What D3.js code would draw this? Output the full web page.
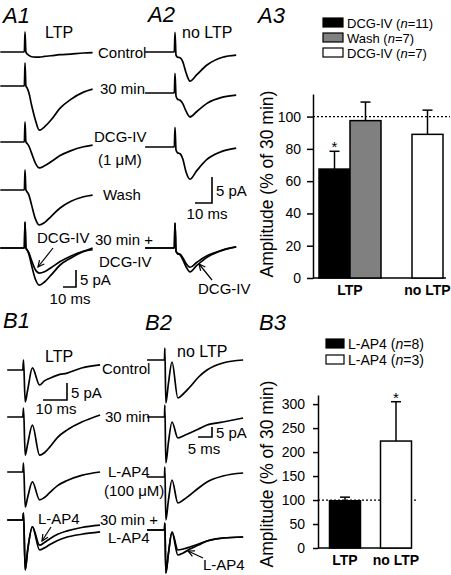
<!DOCTYPE html>
<html><head><meta charset="utf-8">
<script src="https://cdn.jsdelivr.net/npm/d3@7"></script>
<style>body{margin:0;background:#fff} text{font-family:"Liberation Sans",Arial,Helvetica,sans-serif;fill:#000}</style>
</head><body><svg id="c" width="451" height="575"></svg>
<script>
// ---------- DATA ----------
// A1 traces (time ms, current pA)
const a1Time    = [-19, -0.5, 0, 0.7, 1.5, 3, 5, 8, 11, 15, 20, 27, 35, 45, 52];
const a1Control = [0, 0, 5.9, 0, -0.5, -1.0, -1.4, -1.5, -1.5, -1.3, -1.1, -0.8, -0.6, -0.3, -0.2];
const a130min   = [0, 0, 6.8, 0, -0.5, -2.0, -5.5, -10.0, -13.0, -12.0, -10.0, -6.5, -4.0, -1.8, -0.9];
const a1DCG     = [0, 0, 5.9, 0, -0.4, -1.2, -3.2, -6.2, -7.6, -7.0, -5.8, -4.0, -2.6, -1.4, -0.9];
const a1Wash    = [0, 0, 5.9, 0, -0.5, -1.5, -4.3, -8.5, -10.3, -9.6, -7.8, -5.3, -3.4, -2.0, -1.5];
const a1Ovl30   = [0, 0, 7.6, 0, -0.5, -1.8, -5.0, -9.2, -10.9, -10.0, -8.0, -5.0, -3.0, -1.0, 0];
const a1OvlDCG  = [0, 0, 7.6, 0, -0.5, -1.4, -3.6, -6.4, -7.4, -7.0, -5.8, -4.0, -2.4, -1.0, -0.5];
// A2 traces
const a2Time    = [-17.6, -0.4, 0, 0.6, 1.5, 3, 4.5, 6.5, 8.8, 12.7, 18.8, 28, 36];
const a2Control = [0, 0, 3.8, -0.6, -1.0, -1.1, -1.8, -4.0, -5.6, -4.4, -2.5, -1.0, -0.6];
const a230min   = [0, 0, 3.8, -0.6, -1.2, -1.4, -2.0, -3.5, -4.6, -3.6, -2.0, -0.8, -0.4];
const a2DCG     = [0, 0, 3.8, -0.6, -1.1, -1.3, -2.2, -4.8, -6.2, -4.6, -2.4, -0.8, -0.2];
const a2Ovl30   = [0, 0, 4.8, -0.6, -1.1, -1.3, -2.2, -3.6, -4.6, -3.4, -1.8, -0.4, 0.2];
const a2OvlDCG  = [0, 0, 4.8, -0.6, -1.0, -1.2, -1.8, -3.0, -3.7, -2.8, -1.5, -0.4, 0.2];
// B1 traces
const b1Time    = [-7, -0.5, -0.2, 0.5, 1.5, 3.5, 6.5, 8.5, 10.8, 14, 18, 24, 31.7];
const b1Control = [0, 0, 2.9, -9.4, -6, 0.6, -4.4, -3.2, -2.4, -1.5, -0.9, 0.6, 1.5];
const b130min   = [0, 0, 2.6, -11.2, -8, -2.4, -11.2, -10.5, -8.8, -6, -3.8, -1.5, 0.6];
const b1LAP4    = [0, 0, 2.6, -10.3, -7.5, -2.9, -8.2, -7.5, -6, -4, -2.5, -1, 0];
const b1Ovl30   = [0, 0, 2, -14.7, -9, -2, -8.8, -8.2, -7.2, -6, -5, -4.2, -3.5];
const b1OvlLAP4 = [0, 0, 2, -14.7, -9, -2, -7.4, -6.6, -5.5, -4.2, -3.2, -2.2, -1.5];
// B2 traces
const b2Time    = [-6.4, -0.2, -0.05, 0.3, 1.2, 2.5, 4.6, 6.5, 8.9, 12, 15, 20.7, 27.9];
const b2Control = [0, 0, 6, -21.5, -12, -1, -19, -17, -13.5, -8.5, -5, -1.5, 0];
const b230min   = [0, 0, 6, -23, -13, -2.5, -10.5, -9.5, -8, -6, -4, -2.5, -0.5];
const b2LAP4    = [0, 0, 5, -21.5, -12, -1.5, -13, -11.5, -9, -5.5, -2.5, 0.5, 2];
const b2Ovl30   = [0, 0, 3.5, -21.5, -12, -1, -12.5, -11.5, -9.5, -7.5, -5.5, -4, -3.5];
const b2OvlLAP4 = [0, 0, 3.5, -21.5, -12, -1, -10, -9.5, -8.5, -7, -5.5, -4, -3.5];

// A3 bar chart
const a3Groups      = ["LTP", "no LTP"];
const a3SeriesNames = ["DCG-IV", "Wash", "DCG-IV"];
const a3SeriesN     = [11, 7, 7];
const a3SeriesGroup = ["LTP", "LTP", "no LTP"];
const a3Means       = [67.5, 97.5, 89];
const a3Errors      = [11, 11.5, 15];
const a3Signif      = [true, false, false];
const a3Ticks       = [0, 20, 40, 60, 80, 100];
// B3 bar chart
const b3Groups      = ["LTP", "no LTP"];
const b3SeriesNames = ["L-AP4", "L-AP4"];
const b3SeriesN     = [8, 3];
const b3SeriesGroup = ["LTP", "no LTP"];
const b3Means       = [98.5, 223];
const b3Errors      = [7.5, 82];
const b3Signif      = [false, true];
const b3Ticks       = [0, 50, 100, 150, 200, 250, 300];

// ---------- DRAWING ----------
const svg = d3.select("#c");
const FS = 15;

function txt(x, y, s, opts = {}) {
  const t = svg.append("text").attr("x", x).attr("y", y).text(s)
    .style("font-size", (opts.size || FS) + "px");
  if (opts.anchor) t.attr("text-anchor", opts.anchor);
  if (opts.bold) t.style("font-weight", "bold");
  if (opts.italic) t.style("font-style", "italic");
  return t;
}

function tracePanel(time, traces, bases, x0, msPx, paPx) {
  const xs = d3.scaleLinear().domain([0, 10]).range([x0, x0 + msPx]);
  const ys = d3.scaleLinear().domain([0, 5]).range([0, -paPx]);
  const line = d3.line().x((d, i) => xs(time[i])).y(d => ys(d)).curve(d3.curveMonotoneX);
  traces.forEach((grp, k) => {
    const g = svg.append("g").attr("transform", `translate(0,${bases[k]})`);
    grp.forEach(vals => {
      g.append("path").attr("d", line(vals)).attr("fill", "none")
        .attr("stroke", "#000").attr("stroke-width", 1.7).attr("stroke-linejoin", "round");
    });
  });
  return {xs, ys};
}

function scaleBar(sc, cx, cy, msLen, paLen, msLabel, paLabel, msLabelX, msLabelY) {
  const w = sc.xs(msLen) - sc.xs(0);
  const h = sc.ys(0) - sc.ys(paLen);
  svg.append("path").attr("d", `M${cx - w},${cy}H${cx}V${cy - h}`)
    .attr("fill", "none").attr("stroke", "#000").attr("stroke-width", 1.6);
  txt(cx + 4, cy - h / 2 + 6, paLabel);
  txt(msLabelX, msLabelY, msLabel, {anchor: "middle"});
}

function arrow(x1, y1, x2, y2) {
  svg.append("line").attr("x1", x1).attr("y1", y1).attr("x2", x2).attr("y2", y2)
    .attr("stroke", "#000").attr("stroke-width", 1.2);
  const a = Math.atan2(y2 - y1, x2 - x1), L = 7, s = 0.45;
  svg.append("path").attr("d",
    `M${x2 - L * Math.cos(a - s)},${y2 - L * Math.sin(a - s)}L${x2},${y2}L${x2 - L * Math.cos(a + s)},${y2 - L * Math.sin(a + s)}`)
    .attr("fill", "none").attr("stroke", "#000").attr("stroke-width", 1.2);
}

// A1
const sA1 = tracePanel(a1Time, [[a1Control], [a130min], [a1DCG], [a1Wash], [a1Ovl30, a1OvlDCG]],
  [52, 86, 142, 190, 248], 25, 13, 17);
scaleBar(sA1, 76, 287, 10, 5, "10 ms", "5 pA", 70, 304);
// A2
const sA2 = tracePanel(a2Time, [[a2Control], [a230min], [a2DCG], [a2Ovl30, a2OvlDCG]],
  [52, 93, 147, 248], 175, 17, 26);
scaleBar(sA2, 212, 203, 10, 5, "10 ms", "5 pA", 207, 219);
// B1
const sB1 = tracePanel(b1Time, [[b1Control], [b130min], [b1LAP4], [b1Ovl30, b1OvlLAP4]],
  [370, 417, 472, 520], 24, 24, 17);
scaleBar(sB1, 67, 400, 10, 5, "10 ms", "5 pA", 56, 414);
// B2
const sB2 = tracePanel(b2Time, [[b2Control], [b230min], [b2LAP4], [b2Ovl30, b2OvlLAP4]],
  [360, 417, 477, 530], 165, 28, 10);
scaleBar(sB2, 212, 437, 5, 5, "5 ms", "5 pA", 204, 454);

// trace labels
txt(45, 38, "LTP", {size: 16});
txt(182, 38, "no LTP", {size: 16});
txt(45, 362, "LTP", {size: 16});
txt(177, 357, "no LTP", {size: 16});
const a1Labels = [["Control", 98, 58], ["30 min", 100, 94], ["DCG-IV", 94, 142], ["(1 μM)", 98, 165],
  ["Wash", 103, 200], ["30 min +", 95, 245], ["DCG-IV", 99, 267]];
a1Labels.forEach(d => txt(d[1], d[2], d[0]));
const b1Labels = [["Control", 102, 374], ["30 min", 105, 422], ["L-AP4", 108, 477], ["(100 μM)", 104, 496],
  ["30 min +", 100, 525], ["L-AP4", 108, 543]];
b1Labels.forEach(d => txt(d[1], d[2], d[0]));
txt(37, 243, "DCG-IV"); arrow(53, 248, 38, 267);
txt(198, 294, "DCG-IV"); arrow(212, 280, 199, 264);
txt(38, 524, "L-AP4"); arrow(51, 527, 42, 541);
txt(203, 570, "L-AP4"); arrow(203, 558, 188, 551);

// panel labels
[["A1", 3, 23], ["A2", 148, 22], ["A3", 258, 23], ["B1", 3, 328], ["B2", 145, 330], ["B3", 259, 330]]
  .forEach(d => txt(d[1], d[2], d[0], {size: 22, italic: true}));

// bar chart helper
function barChart(o) {
  const y = d3.scaleLinear().domain([0, o.ymax]).range([o.y0, o.ytop]);
  const gx = d3.scalePoint().domain(o.groups).range(o.xr);
  const ax = svg.append("g").attr("transform", `translate(${o.axX},0)`)
    .call(d3.axisLeft(y).tickValues(o.ticks).tickSize(o.tickSize).tickPadding(o.tickPad).tickSizeOuter(0));
  ax.selectAll("path,line").attr("stroke", "#000").attr("stroke-width", 1.5);
  ax.selectAll("text").style("font-size", "14px").attr("fill", "#000")
    .style("font-family", '"Liberation Sans",Arial,sans-serif');
  svg.append("line").attr("x1", o.axX).attr("x2", o.xEnd).attr("y1", y(0)).attr("y2", y(0))
    .attr("stroke", "#000").attr("stroke-width", 1.5);
  svg.append("line").attr("x1", o.axX).attr("x2", o.dotEnd).attr("y1", y(100)).attr("y2", y(100))
    .attr("stroke", "#000").attr("stroke-width", 1.3).attr("stroke-dasharray", "2,2");
  const bw = o.bw;
  o.means.forEach((m, i) => {
    const g = o.sgroup[i];
    const members = o.sgroup.map((s, j) => s === g ? j : -1).filter(j => j >= 0);
    const k = members.indexOf(i);
    const x = gx(g) - members.length * bw / 2 + k * bw;
    const cx = x + bw / 2;
    const top = y(m + o.errs[i]);
    svg.append("line").attr("x1", cx).attr("x2", cx).attr("y1", y(m)).attr("y2", top)
      .attr("stroke", "#000").attr("stroke-width", 1.5);
    svg.append("line").attr("x1", cx - 5).attr("x2", cx + 5).attr("y1", top).attr("y2", top)
      .attr("stroke", "#000").attr("stroke-width", 1.5);
    svg.append("rect").attr("x", x).attr("y", y(m)).attr("width", bw).attr("height", y(0) - y(m))
      .attr("fill", o.fills[i]).attr("stroke", "#000").attr("stroke-width", 1.5);
    if (o.signif[i]) txt(cx, top + 1, "*", {anchor: "middle", size: 15});
  });
  o.groups.forEach(g => txt(gx(g), o.labY, g, {anchor: "middle", bold: true, size: 14}));
  svg.append("text").attr("transform", `translate(273,${o.ylabC}) rotate(-90)`)
    .attr("text-anchor", "middle").style("font-size", "17.5px").text("Amplitude (% of 30 min)");
  // legend
  o.names.forEach((nm, i) => {
    const yy = o.legY + i * o.legStep;
    svg.append("rect").attr("x", o.legX).attr("y", yy).attr("width", o.legW).attr("height", 9)
      .attr("fill", o.fills[i]).attr("stroke", "#000").attr("stroke-width", 1.2);
    const t = svg.append("text").attr("x", o.legX + o.legW + 4).attr("y", yy + 9.5)
      .style("font-size", o.legFs + "px");
    t.append("tspan").text(nm + " (");
    t.append("tspan").style("font-style", "italic").text("n");
    t.append("tspan").text("=" + o.ns[i] + ")");
  });
}

barChart({ymax: 114, y0: 278, ytop: 94, groups: a3Groups, xr: [350, 427.5], axX: 313, xEnd: 446, dotEnd: 450,
  ticks: a3Ticks, tickSize: 6, tickPad: 6, bw: 31, means: a3Means, errs: a3Errors, sgroup: a3SeriesGroup,
  fills: ["#000", "#808080", "#fff"], signif: a3Signif, labY: 295, ylabC: 184,
  names: a3SeriesNames, ns: a3SeriesN, legX: 323, legY: 18, legStep: 15, legW: 20, legFs: 13});
barChart({ymax: 319, y0: 548, ytop: 395, groups: b3Groups, xr: [345, 396], axX: 318, xEnd: 412, dotEnd: 418,
  ticks: b3Ticks, tickSize: 5, tickPad: 8, bw: 31, means: b3Means, errs: b3Errors, sgroup: b3SeriesGroup,
  fills: ["#000", "#fff"], signif: b3Signif, labY: 565, ylabC: 474,
  names: b3SeriesNames, ns: b3SeriesN, legX: 326, legY: 339, legStep: 16, legW: 18, legFs: 14});
</script></body></html>
